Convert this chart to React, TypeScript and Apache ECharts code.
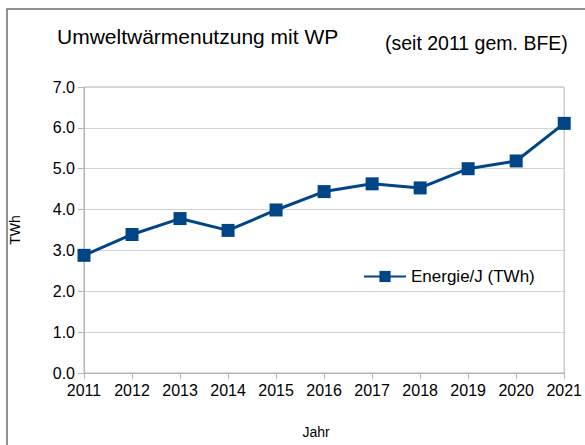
import React, { useEffect, useRef } from "react";
import * as echarts from "echarts";

const years = ["2011", "2012", "2013", "2014", "2015", "2016", "2017", "2018", "2019", "2020", "2021"];
const energie = [2.88, 3.39, 3.78, 3.49, 3.99, 4.44, 4.63, 4.53, 5.0, 5.19, 6.11];
const seriesName = "Energie/J (TWh)";
const titleText = "Umweltwärmenutzung mit WP";
const subtitleText = "(seit 2011 gem. BFE)";

export default function App() {
  const ref = useRef<HTMLDivElement>(null);
  useEffect(() => {
    if (!ref.current) return;
    const chart = echarts.init(ref.current, null, { renderer: "svg" });
    const font = "Liberation Sans, Arial, sans-serif";
    chart.setOption({
      animation: false,
      backgroundColor: "#ffffff",
      textStyle: { fontFamily: font },
      graphic: [
        {
          type: "rect",
          shape: { x: 7, y: 9, width: 700, height: 600 },
          style: { fill: "none", stroke: "#6e6e6e", lineWidth: 1.5 },
          silent: true,
        },
      ],
      title: [
        {
          text: titleText,
          left: 52,
          top: 21,
          textStyle: { fontFamily: font, fontSize: 21, fontWeight: "normal", color: "#000000" },
        },
        {
          text: subtitleText,
          left: 380,
          top: 28,
          textStyle: { fontFamily: font, fontSize: 19.5, fontWeight: "normal", color: "#000000" },
        },
      ],
      legend: {
        left: 358,
        top: 263,
        itemWidth: 42,
        itemHeight: 14,
        itemGap: 8,
        textStyle: { fontFamily: font, fontSize: 17, color: "#000000" },
        data: [seriesName],
      },
      grid: {
        left: 82,
        right: 17,
        top: 87,
        bottom: 72,
        show: true,
        borderColor: "#b3b3b3",
        borderWidth: 1,
        containLabel: false,
      },
      xAxis: {
        type: "category",
        data: years,
        boundaryGap: false,
        name: "Jahr",
        nameLocation: "middle",
        nameGap: 52,
        nameTextStyle: { fontFamily: font, fontSize: 14, color: "#000000", padding: [0, 16, 0, 0] },
        axisLine: { lineStyle: { color: "#b3b3b3", width: 1 } },
        axisTick: { show: true, length: 6, lineStyle: { color: "#b3b3b3" } },
        axisLabel: { fontFamily: font, fontSize: 16, color: "#000000", margin: 9 },
        splitLine: { show: false },
      },
      yAxis: {
        type: "value",
        min: 0,
        max: 7,
        interval: 1,
        name: "TWh",
        nameLocation: "middle",
        nameGap: 62,
        nameTextStyle: { fontFamily: font, fontSize: 14, color: "#000000" },
        axisLine: { show: true, lineStyle: { color: "#b3b3b3", width: 1 } },
        axisTick: { show: true, length: 6, lineStyle: { color: "#b3b3b3" } },
        axisLabel: {
          fontFamily: font,
          fontSize: 16,
          color: "#000000",
          margin: 9,
          formatter: (v: number) => v.toFixed(1),
        },
        splitLine: { show: true, lineStyle: { color: "#d4d4d4", width: 1 } },
      },
      series: [
        {
          name: seriesName,
          type: "line",
          data: energie,
          symbol: "rect",
          symbolSize: 13,
          lineStyle: { color: "#004586", width: 3 },
          itemStyle: { color: "#004586" },
          clip: false,
        },
      ],
    });
    return () => chart.dispose();
  }, []);
  return <div ref={ref} style={{ width: 585, height: 445, position: "absolute", left: 0, top: 0 }} />;
}
